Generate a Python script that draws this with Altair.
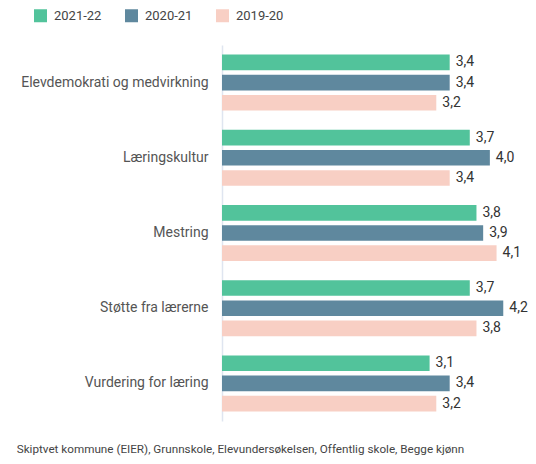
import altair as alt
import pandas as pd

categories = ["Elevdemokrati og medvirkning", "Læringskultur", "Mestring",
              "Støtte fra lærerne", "Vurdering for læring"]
years = ["2021-22", "2020-21", "2019-20"]
v2122 = [3.4, 3.7, 3.8, 3.7, 3.1]
v2021 = [3.4, 4.0, 3.9, 4.2, 3.4]
v1920 = [3.2, 3.4, 4.1, 3.8, 3.2]
colors = ["#52c39b", "#5f889e", "#f8cfc4"]
footer = "Skiptvet kommune (EIER), Grunnskole, Elevundersøkelsen, Offentlig skole, Begge kjønn"

rows = []
for i, c in enumerate(categories):
    for y, vals in zip(years, [v2122, v2021, v1920]):
        rows.append({"kategori": c, "aar": y, "verdi": vals[i]})
df = pd.DataFrame(rows)

base = alt.Chart(df).transform_calculate(
    label="replace(format(datum.verdi, '.1f'), '.', ',')"
).encode(
    y=alt.Y("kategori:N", sort=categories, title=None,
            scale=alt.Scale(paddingInner=0.255, paddingOuter=0.1275),
            axis=alt.Axis(labelFont="Roboto", labelFontSize=14, labelColor="#555555",
                          labelPadding=14, ticks=False, domainColor="#dfe5f0",
                          domainWidth=1.5, grid=False, labelLimit=300)),
    yOffset=alt.YOffset("aar:N", sort=years,
                        scale=alt.Scale(paddingInner=0.225, paddingOuter=0)),
    x=alt.X("verdi:Q", axis=None, scale=alt.Scale(domain=[0, 4.45])),
)

bars = base.mark_bar().encode(
    color=alt.Color("aar:N", sort=years,
                    scale=alt.Scale(domain=years, range=colors),
                    legend=alt.Legend(orient="none", legendX=-188, legendY=-36,
                                      direction="horizontal", symbolType="square",
                                      symbolSize=169, labelFont="Roboto",
                                      labelFontSize=13, labelColor="#444444",
                                      title=None, columnPadding=23,
                                      symbolStrokeWidth=0, labelOffset=7))
)

text = base.mark_text(align="left", dx=6, baseline="middle", font="Roboto",
                      fontSize=14, color="#333333").encode(text="label:N")

chart = alt.layer(bars, text).properties(
    width=298, height=376,
    autosize="none",
    padding={"left": 214, "top": 37, "right": 8, "bottom": 35},
    title=alt.TitleParams(footer, orient="bottom", anchor="start", font="Roboto",
                          fontSize=11.7, fontWeight="normal", color="#444444",
                          dx=-4, offset=23),
).configure_view(stroke=None)

chart.save("out.html", embed_options={"renderer": "svg", "actions": False})
